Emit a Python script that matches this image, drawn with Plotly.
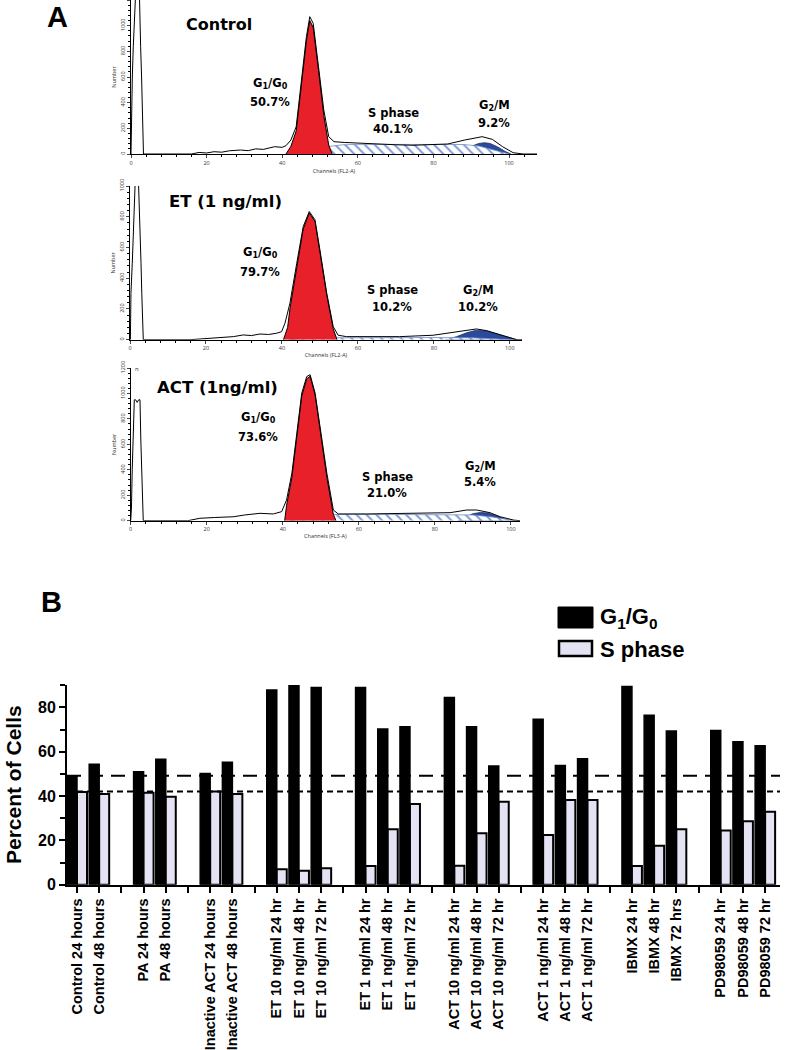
import plotly.graph_objects as go

W, H = 785, 1050


def fx(px):
    return px / W


def fy(py):
    return 1 - py / H


# ---------------- Panel B data ----------------
GROUP_CATS = [
    ["Control 24 hours", "Control 48 hours"],
    ["PA 24 hours", "PA 48 hours"],
    ["Inactive ACT 24 hours", "Inactive ACT 48 hours"],
    ["ET 10 ng/ml 24 hr", "ET 10 ng/ml 48 hr", "ET 10 ng/ml 72 hr"],
    ["ET 1 ng/ml 24 hr", "ET 1 ng/ml 48 hr", "ET 1 ng/ml 72 hr"],
    ["ACT 10 ng/ml 24 hr", "ACT 10 ng/ml 48 hr", "ACT 10 ng/ml 72 hr"],
    ["ACT 1 ng/ml 24 hr", "ACT 1 ng/ml 48 hr", "ACT 1 ng/ml 72 hr"],
    ["IBMX 24 hr", "IBMX 48 hr", "IBMX 72 hrs"],
    ["PD98059 24 hr", "PD98059 48 hr", "PD98059 72 hr"],
]
G1_G0 = [49.2, 54.4, 51.0, 56.6, 50.2, 55.2,
         87.8, 90.0, 89.0, 89.0, 70.2, 71.3,
         84.5, 71.3, 53.5, 74.7, 53.8, 56.8,
         89.4, 76.5, 69.3, 69.6, 64.5, 62.7]
S_PHASE = [41.8, 40.9, 41.5, 39.7, 42.0, 40.9,
           7.0, 6.3, 7.4, 8.4, 25.0, 36.4,
           8.6, 23.2, 37.4, 22.4, 38.2, 38.2,
           8.4, 17.6, 25.0, 24.5, 28.6, 32.9]
CONTROL_G1_LEVEL = 49.2
CONTROL_S_LEVEL = 42.0
Y_TICKS_B = [0, 20, 40, 60, 80]
Y_MINOR_B = [10, 30, 50, 70, 90]

# ---------------- Panel A data (channel, count) ----------------
CTRL_OUT_CH = [0, 0.05, 0.2, 0.35, 0.6, 0.85, 1.1, 1.6, 2.1, 2.3, 2.55, 2.8, 2.95, 3.15, 3.3,
               16, 18, 20, 22, 24, 26, 29, 31, 33, 35, 38, 40, 41, 42.3, 43.7, 45, 46.4, 47.3,
               48.2, 49.6, 51, 52.3, 53.7, 56.4, 60, 65.5, 70, 74.6, 79, 83.8, 88.3, 92.9, 95.6,
               98.3, 101.1, 103.8, 107.4]
CTRL_OUT_N = [0, 125, 357, 600, 836, 1100, 1400, 1500, 1400, 1070, 836, 600, 357, 125, 0,
              0, 12, 8, 18, 14, 25, 31, 26, 40, 36, 57, 52, 65, 109, 213, 550, 914, 1070,
              1018, 680, 343, 135, 96, 90, 84, 78, 72, 68, 72, 78, 109, 135, 114,
              57, 10, 0, 0]
CTRL_G1_CH = [41.0, 42.3, 43.7, 45.0, 46.4, 47.3, 48.2, 49.6, 51.0, 52.3, 53.2]
CTRL_G1_N = [0, 60, 180, 520, 880, 1040, 985, 650, 300, 70, 0]
CTRL_S_CH = [42, 44, 47, 50, 53, 56, 60, 70, 80, 88, 92, 95, 98, 100]
CTRL_S_N = [0, 10, 30, 50, 62, 72, 75, 76, 76, 74, 62, 40, 15, 0]
CTRL_G2_CH = [88, 90, 92, 93.5, 95, 97, 99, 100.5]
CTRL_G2_N = [0, 60, 82, 88, 82, 55, 20, 0]

ET_OUT_CH = [0.1, 0.25, 0.6, 0.85, 1.1, 1.4, 2.2, 2.45, 2.65, 2.9, 3.1, 3.3, 3.5,
             15.8, 20, 24, 27.2, 29.8, 32, 34.2, 36.5, 38.6, 39.9, 40.8, 42.1, 43.9, 45.6,
             47.2, 48.7, 50, 51.8, 53.5, 54.8, 57, 62.3, 71, 79.8, 84.2, 88.6, 91.2, 93.9,
             97.4, 100, 101.8, 103.2]
ET_OUT_N = [0, 302, 498, 704, 889, 1050, 1050, 889, 704, 498, 302, 50, 0,
            0, 8, 15, 20, 31, 27, 37, 34, 42, 52, 107, 237, 498, 736,
            834, 780, 584, 302, 85, 29, 20, 20, 20, 29, 44, 63, 70, 59,
            31, 11, 0, 0]
ET_G1_CH = [40.4, 41.5, 42.1, 43.9, 45.6, 47.2, 48.7, 50.0, 51.8, 53.5, 54.5]
ET_G1_N = [0, 80, 200, 470, 720, 825, 770, 570, 290, 70, 0]
ET_S_CH = [42, 45, 50, 60, 80, 90, 98, 101]
ET_S_N = [0, 8, 12, 14, 14, 12, 6, 0]
ET_G2_CH = [83, 86, 88.6, 91.2, 93.9, 97.4, 100, 101.8]
ET_G2_N = [0, 20, 45, 62, 56, 30, 10, 0]

ACT_OUT_CH = [0, 0.2, 0.4, 0.65, 0.95, 1.3, 1.7, 2.1, 2.45, 2.65, 2.9, 3.1, 3.3,
              15, 18.2, 22, 27, 30, 34, 37.5, 39.7, 41, 42.4, 43.7, 45, 46.3, 47.2,
              48.5, 49.8, 51.6, 53.3, 54.6, 62.1, 70.9, 79.6, 84, 88.4, 91, 94.5,
              97.2, 100.7, 102.4]
ACT_OUT_N = [0, 100, 400, 610, 950, 950, 930, 950, 950, 650, 400, 120, 0,
             0, 19, 25, 31, 45, 58, 53, 71, 163, 373, 688, 1003, 1133, 1147,
             1003, 740, 373, 84, 53, 53, 58, 58, 63, 84, 84, 63,
             31, 5, 0]
ACT_G1_CH = [40.5, 41.0, 42.4, 43.7, 45.0, 46.3, 47.2, 48.5, 49.8, 51.6, 53.3, 54.0]
ACT_G1_N = [0, 120, 340, 660, 980, 1115, 1135, 990, 720, 340, 50, 0]
ACT_S_CH = [42, 45, 50, 55, 65, 75, 85, 90, 95, 99, 101]
ACT_S_N = [0, 25, 45, 50, 50, 50, 50, 45, 30, 10, 0]
ACT_G2_CH = [86, 88, 90, 92, 94, 96, 98, 99.5]
ACT_G2_N = [0, 30, 55, 65, 60, 40, 15, 0]

HIST_X_TICKS = [0, 20, 40, 60, 80, 100]

# ---------------- figure ----------------
fig = go.Figure()

# bar slots: each category one slot, one empty slot between groups
xs, tickvals, ticktext = [], [], []
slot = 0
for gi, grp in enumerate(GROUP_CATS):
    for c in grp:
        xs.append(slot)
        tickvals.append(slot)
        ticktext.append(c)
        slot += 1
    if gi < len(GROUP_CATS) - 1:
        tickvals.append(slot)
        ticktext.append("")
        slot += 1

fig.add_trace(go.Bar(x=xs, y=G1_G0, name="G1/G0", xaxis="x", yaxis="y",
                     marker=dict(color="black", line=dict(color="black", width=1.5)),
                     showlegend=False))
fig.add_trace(go.Bar(x=xs, y=S_PHASE, name="S phase", xaxis="x", yaxis="y",
                     marker=dict(color="#e3e3f3", line=dict(color="black", width=2)),
                     showlegend=False))

hists = [
    ("x2", "y2", CTRL_OUT_CH, CTRL_OUT_N, CTRL_G1_CH, CTRL_G1_N, CTRL_S_CH, CTRL_S_N, CTRL_G2_CH, CTRL_G2_N),
    ("x3", "y3", ET_OUT_CH, ET_OUT_N, ET_G1_CH, ET_G1_N, ET_S_CH, ET_S_N, ET_G2_CH, ET_G2_N),
    ("x4", "y4", ACT_OUT_CH, ACT_OUT_N, ACT_G1_CH, ACT_G1_N, ACT_S_CH, ACT_S_N, ACT_G2_CH, ACT_G2_N),
]
for xa, ya, oc, on, rc, rn, sc, sn, bc, bn in hists:
    fig.add_trace(go.Scatter(x=bc, y=bn, xaxis=xa, yaxis=ya, mode="lines", fill="tozeroy",
                             fillcolor="#2b4a9c", line=dict(color="#1c2f6a", width=0.8),
                             showlegend=False, hoverinfo="skip"))
    fig.add_trace(go.Scatter(x=sc, y=sn, xaxis=xa, yaxis=ya, mode="lines", fill="tozeroy",
                             fillcolor="white",
                             fillpattern=dict(shape="\\", fgcolor="#6f8fcf", bgcolor="white",
                                              size=7, solidity=0.25),
                             line=dict(color="#6d8cc6", width=0.8),
                             showlegend=False, hoverinfo="skip"))
    fig.add_trace(go.Scatter(x=rc, y=rn, xaxis=xa, yaxis=ya, mode="lines", fill="tozeroy",
                             fillcolor="#e8202a", line=dict(color="black", width=1),
                             showlegend=False, hoverinfo="skip"))
    fig.add_trace(go.Scatter(x=oc, y=on, xaxis=xa, yaxis=ya, mode="lines",
                             line=dict(color="black", width=1),
                             showlegend=False, hoverinfo="skip"))

BOLD = dict(family="Liberation Sans, Arial", color="black", weight="bold")


def hist_axes(xdom, ydom, xmax, ymax, ytitle, xtitle, anchor_x, anchor_y):
    xa = dict(domain=[fx(xdom[0]), fx(xdom[1])], range=[0, xmax], anchor=anchor_y,
              showline=True, linecolor="black", linewidth=1, ticks="outside", ticklen=3,
              tickwidth=1, tickvals=HIST_X_TICKS, tickfont=dict(size=5.5, color="#333"),
              minor=dict(dtick=4, tick0=0, ticks="outside", ticklen=2, tickcolor="black"),
              showgrid=False, zeroline=False, automargin=False,
              title=dict(text=xtitle, font=dict(size=5.5, color="#333"), standoff=1))
    ya = dict(domain=[fy(ydom[1]), fy(ydom[0])], range=[0, ymax], anchor=anchor_x,
              showline=True, linecolor="black", linewidth=1, ticks="outside", ticklen=3,
              tickwidth=1, dtick=200, tick0=0, tickangle=-90,
              tickfont=dict(size=5.5, color="#333"),
              minor=dict(dtick=40, tick0=0, ticks="outside", ticklen=2, tickcolor="black"),
              showgrid=False, zeroline=False, automargin=False,
              title=dict(text=ytitle, font=dict(size=5.5, color="#333"), standoff=1))
    return xa, ya


x2, y2 = hist_axes((131, 537), (0, 154), 107.4, 1200, "Number", "Channels (FL2-A)", "x2", "y2")
x3, y3 = hist_axes((130, 522), (186, 339.7), 103.2, 1000, "Number", "Channels (FL2-A)", "x3", "y3")
x4, y4 = hist_axes((130.7, 520), (368, 520.7), 102.4, 1200, "Number", "Channels (FL3-A)", "x4", "y4")

xaxis_b = dict(domain=[fx(67), fx(780)], range=[-0.45, 31.67], anchor="y",
               showline=True, linecolor="black", linewidth=2, ticks="outside", ticklen=6,
               tickwidth=2, tickcolor="black", tickvals=tickvals, ticktext=ticktext,
               tickangle=-90, tickfont=dict(size=14.5, **BOLD), showgrid=False,
               zeroline=False, automargin=False)
yaxis_b = dict(domain=[fy(884.7), fy(685)], range=[0, 90.1], anchor="x",
               showline=True, linecolor="black", linewidth=2, ticks="outside", ticklen=6,
               tickwidth=2, tickcolor="black", tickvals=Y_TICKS_B,
               tickfont=dict(size=16, **BOLD),
               minor=dict(tickvals=Y_MINOR_B, ticks="outside", ticklen=5, tickwidth=2,
                          tickcolor="black"),
               showgrid=False, zeroline=False, automargin=False)

shapes = [
    dict(type="line", xref="x domain", yref="y", x0=0, x1=1,
         y0=CONTROL_G1_LEVEL, y1=CONTROL_G1_LEVEL,
         line=dict(color="black", width=2, dash="14px,8px")),
    dict(type="line", xref="x domain", yref="y", x0=0, x1=1,
         y0=CONTROL_S_LEVEL, y1=CONTROL_S_LEVEL,
         line=dict(color="black", width=2, dash="6px,4px")),
    # legend swatches
    dict(type="rect", xref="paper", yref="paper", x0=fx(558), x1=fx(593), y0=fy(628), y1=fy(607),
         fillcolor="black", line=dict(color="black", width=1)),
    dict(type="rect", xref="paper", yref="paper", x0=fx(559), x1=fx(592), y0=fy(656), y1=fy(641),
         fillcolor="#e3e3f3", line=dict(color="black", width=2.5)),
]

HF = dict(family="DejaVu Sans", color="black", weight="bold")
annotations = []


def ann(text, px, py, font, xanchor="center", yanchor="middle", angle=0):
    annotations.append(dict(text=text, x=fx(px), y=fy(py), xref="paper", yref="paper",
                            showarrow=False, xanchor=xanchor, yanchor=yanchor,
                            textangle=angle, font=font))


ann("A", 45, 17, dict(size=29, **BOLD), xanchor="left")
ann("B", 39, 602, dict(size=29, **BOLD), xanchor="left")

ann("Control", 184, 24, dict(size=16, **HF), xanchor="left")
ann("G<sub>1</sub>/G<sub>0</sub>", 270, 84, dict(size=11.5, **HF))
ann("50.7%", 270, 102, dict(size=11.5, **HF))
ann("S phase", 393, 113, dict(size=11.5, **HF))
ann("40.1%", 393, 129, dict(size=11.5, **HF))
ann("G<sub>2</sub>/M", 494, 106, dict(size=11.5, **HF))
ann("9.2%", 494, 123, dict(size=11.5, **HF))

ann("ET (1 ng/ml)", 167, 202, dict(size=16.5, **HF), xanchor="left")
ann("G<sub>1</sub>/G<sub>0</sub>", 260, 252, dict(size=11.5, **HF))
ann("79.7%", 260, 272, dict(size=11.5, **HF))
ann("S phase", 392, 290, dict(size=11.5, **HF))
ann("10.2%", 392, 307, dict(size=11.5, **HF))
ann("G<sub>2</sub>/M", 478, 290, dict(size=11.5, **HF))
ann("10.2%", 478, 307, dict(size=11.5, **HF))

ann("ACT (1ng/ml)", 155, 387, dict(size=16.5, **HF), xanchor="left")
ann("G<sub>1</sub>/G<sub>0</sub>", 258, 417, dict(size=11.5, **HF))
ann("73.6%", 258, 437, dict(size=11.5, **HF))
ann("S phase", 387, 477, dict(size=11.5, **HF))
ann("21.0%", 387, 493, dict(size=11.5, **HF))
ann("G<sub>2</sub>/M", 480, 467, dict(size=11.5, **HF))
ann("5.4%", 480, 482, dict(size=11.5, **HF))
ann("n", 137, 369, dict(size=6, color="#333"))

ann("Percent of Cells", 13, 785, dict(size=21, family="Liberation Sans, Arial", color="black",
                                      weight="bold"), angle=-90)
ann("G<sub>1</sub>/G<sub>0</sub>", 598, 618, dict(size=22, **BOLD), xanchor="left")
ann("S phase", 598, 649, dict(size=22, **BOLD), xanchor="left")

fig.update_layout(
    template="none",
    width=W, height=H,
    margin=dict(l=0, r=0, t=0, b=0),
    paper_bgcolor="white", plot_bgcolor="white",
    barmode="group", bargap=0.1, bargroupgap=0,
    showlegend=False,
    xaxis=xaxis_b, yaxis=yaxis_b,
    xaxis2=x2, yaxis2=y2, xaxis3=x3, yaxis3=y3, xaxis4=x4, yaxis4=y4,
    shapes=shapes, annotations=annotations,
)

fig.write_html("out.html",
               config={"displayModeBar": False},
               post_script="document.body.style.margin='0px';"
                           "document.body.style.overflow='hidden';")
